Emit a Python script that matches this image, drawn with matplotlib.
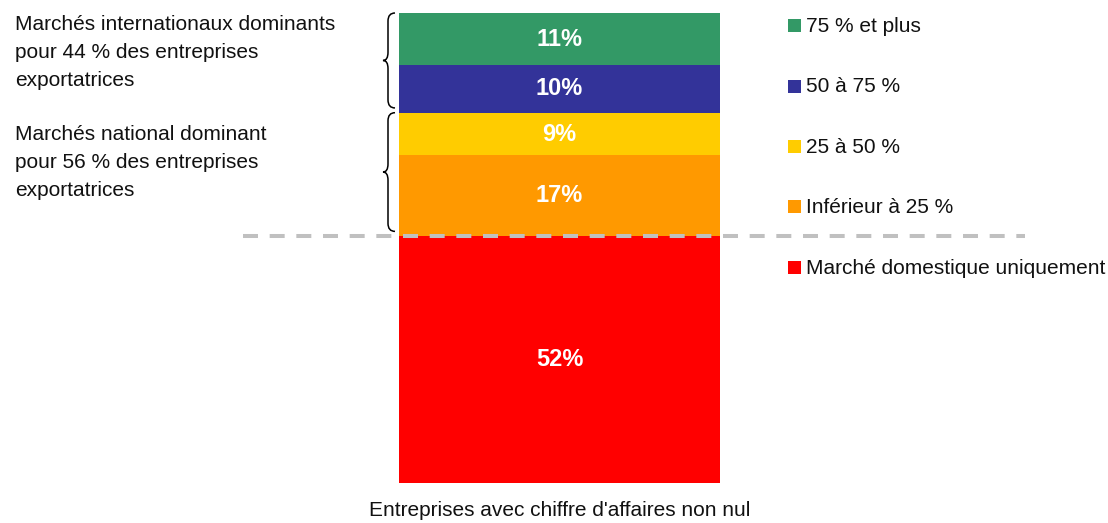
import numpy as np
import matplotlib.pyplot as plt
from matplotlib.path import Path
from matplotlib.patches import PathPatch, Rectangle
from matplotlib.transforms import blended_transform_factory

plt.rcParams['font.family'] = ['Liberation Sans', 'DejaVu Sans']
plt.rcParams['lines.scale_dashes'] = False

# Segments of the stacked bar, from bottom to top.
categories = ['Marché domestique uniquement', 'Inférieur à 25 %', '25 à 50 %',
              '50 à 75 %', '75 % et plus']
shares = [52, 17, 9, 10, 11]
colors = ['#FF0000', '#FF9900', '#FFCC00', '#333399', '#339966']
bar_label = "Entreprises avec chiffre d'affaires non nul"

# Brace groups: (first segment, last segment, text).
groups = [
    (3, 4, 'Marchés internationaux dominants\npour 44 % des entreprises\nexportatrices'),
    (1, 2, 'Marchés national dominant\npour 56 % des entreprises\nexportatrices'),
]

W, H = 1108, 523
fig = plt.figure(figsize=(W / 100, H / 100), dpi=100)


def fx(px):
    return px / W


def fy(py):
    return 1 - py / H


def brace(ax, trans, x, y0, y1, w=7, tip=5, r=1.7):
    # Left-opening curly brace; x values in pixels, y values in data.
    xs, xr, xt = fx(x), fx(x + w), fx(x - tip)
    ym = 0.5 * (y0 + y1)
    verts = [(xr, y1), (xs, y1), (xs, y1 - r), (xs, ym + r),
             (xs, ym), (xt, ym), (xs, ym), (xs, ym - r),
             (xs, y0 + r), (xs, y0), (xr, y0)]
    codes = [Path.MOVETO, Path.CURVE3, Path.CURVE3, Path.LINETO,
             Path.CURVE3, Path.CURVE3, Path.CURVE3, Path.CURVE3,
             Path.LINETO, Path.CURVE3, Path.CURVE3]
    ax.add_patch(PathPatch(Path(verts, codes), fc='none', ec='black', lw=1.1,
                           transform=trans, clip_on=False))


# The bar axes cover exactly the bar.
ax = fig.add_axes([fx(399), fy(483), fx(720) - fx(399), fy(13) - fy(483)])
ax.axis('off')
ax.set_xlim(-0.5, 0.5)
ax.set_ylim(0, sum(shares))

bottoms = np.concatenate([[0], np.cumsum(shares)[:-1]])
for share, bottom, color in zip(shares, bottoms, colors):
    bars = ax.bar(0, share, width=1, bottom=bottom, color=color, linewidth=0)
    ax.bar_label(bars, labels=[f'{share}%'], label_type='center',
                 color='white', fontsize=17, fontweight='bold')

trans = blended_transform_factory(fig.transFigure, ax.transData)

# Dashed separator between domestic-only and exporting firms.
ax.plot([fx(243), fx(1025)], [bottoms[1], bottoms[1]], transform=trans,
        clip_on=False, color='#C0C0C0', lw=2.9, dashes=(10.8, 8.4), zorder=5)

# Braces and their texts.
text_tops = [15, 125]
for (first, last, text), top in zip(groups, text_tops):
    brace(ax, trans, 388, bottoms[first] + 1, bottoms[last] + shares[last])
    fig.text(fx(15), fy(top), text, ha='left', va='top',
             fontsize=15, linespacing=1.6, color='#111111')

# Legend drawn by hand, top to bottom.
for i, (cat, color) in enumerate(zip(categories[::-1], colors[::-1])):
    base = 32 + i * 60.5
    fig.patches.append(Rectangle((fx(788), fy(base)), 13 / W, 13 / H,
                                 transform=fig.transFigure, fc=color, ec='none'))
    fig.text(fx(806), fy(base), cat, ha='left', va='baseline',
             fontsize=15, color='#111111')

fig.text(fx(559.5), fy(516), bar_label, ha='center', va='baseline',
         fontsize=15, color='#111111')

fig.savefig('out.png', dpi=100, facecolor='white')
